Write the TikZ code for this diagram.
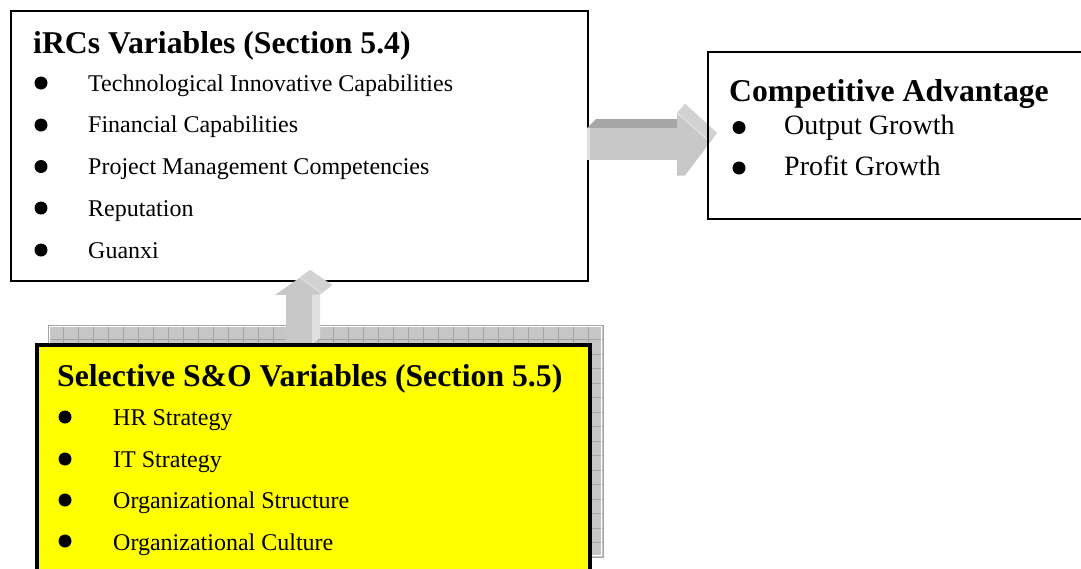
\documentclass[tikz,border=0pt]{standalone}
\usepackage{fontspec}
\setmainfont{Liberation Serif}
\definecolor{arrowfront}{HTML}{C8C8C8}
\definecolor{arrowtop}{HTML}{A6A6A6}
\definecolor{arrowside}{HTML}{E0E0E0}
\definecolor{arrowbevel}{HTML}{D2D2D2}
\definecolor{gridfill}{HTML}{C6C6C6}
\definecolor{gridline}{HTML}{A4A4A4}
\definecolor{boxyellow}{HTML}{FFFF00}
\tikzset{
  framebox/.style={draw=black, line width=1.6pt, inner sep=0pt, anchor=north west},
  headtext/.style={anchor=base west, inner sep=0pt, font=\fontsize{31.7}{36}\selectfont\bfseries},
  itemtext/.style={anchor=base west, inner sep=0pt, font=\fontsize{24}{28}\selectfont},
  bigitemtext/.style={anchor=base west, inner sep=0pt, font=\fontsize{28}{32}\selectfont},
  bulletdot/.style={circle, fill=black, inner sep=0pt, minimum size=13pt},
}
\begin{document}
\begin{tikzpicture}[x=1pt,y=-1pt]
\useasboundingbox (0,0) rectangle (1081,568);

% --- top box: iRCs variables
\node[framebox, fill=white, minimum width=577pt, minimum height=270pt] (irc) at (10,10) {};
\node[headtext] (irct) at (33,53) {iRCs Variables (Section 5.4)};
\node[bulletdot] (ib1) at (41,83) {};
\node[itemtext] (ii1) at (88,91) {Technological Innovative Capabilities};
\node[bulletdot] (ib2) at (41,125) {};
\node[itemtext] (ii2) at (88,132.7) {Financial Capabilities};
\node[bulletdot] (ib3) at (41,166.5) {};
\node[itemtext] (ii3) at (88,174.5) {Project Management Competencies};
\node[bulletdot] (ib4) at (41,208) {};
\node[itemtext] (ii4) at (88,216) {Reputation};
\node[bulletdot] (ib5) at (41,250) {};
\node[itemtext] (ii5) at (88,258) {Guanxi};

% --- right 3D arrow (irc -> ca)
\fill[arrowtop] (587,128) -- (596,119) -- (677,119) -- (677,128) -- cycle;
\fill[arrowfront] (587,128) rectangle (678,160);
\fill[arrowside] (587,128) rectangle (589.5,160);
\fill[arrowfront] (677,113) -- (685,104) -- (717,133) -- (685,175.5) -- (677,175.5) -- cycle;
\fill[arrowbevel] (677,113) -- (685,104) -- (717,133) -- (709,141) -- cycle;
\draw[arrowside, line width=1.2pt] (677,113) -- (709,141);

% --- right box: competitive advantage
\node[framebox, minimum width=380pt, minimum height=167pt] (ca) at (707,51) {};
\node[headtext] (cat) at (729,101.5) {Competitive Advantage};
\node[bulletdot] (cb1) at (739,127.5) {};
\node[bigitemtext] (ci1) at (784,134) {Output Growth};
\node[bulletdot] (cb2) at (739,168) {};
\node[bigitemtext] (ci2) at (784,175.5) {Profit Growth};

% --- grid shadow of the yellow box
\fill[gridfill] (48,325) rectangle (603,557);
\foreach \i in {1,...,36} { \draw[gridline, line width=0.6pt] (48+15*\i,325) -- (48+15*\i,557); }
\foreach \j in {1,...,15} { \draw[gridline, line width=0.6pt] (48,325+14.5*\j) -- (603,325+14.5*\j); }
\draw[white, line width=0.8pt] (49.2,326.2) rectangle (601.8,555.8);
\draw[gridline, line width=0.8pt] (48,325) rectangle (603,557);

% --- up 3D arrow (so -> irc)
\fill[arrowfront] (286,294) rectangle (312,344);
\fill[arrowside] (312,294) -- (320,289) -- (320,338) -- (312,344) -- cycle;
\fill[arrowfront] (275,295) -- (300,277.5) -- (310,270) -- (332,285) -- (320,294.5) -- cycle;
\fill[arrowbevel] (300,277.5) -- (310,270) -- (332,285) -- (321,293) -- cycle;
\draw[arrowside, line width=1.2pt] (300,277.5) -- (321,293);

% --- yellow box: selective S&O variables
\node[framebox, fill=boxyellow, line width=4pt, minimum width=553pt, minimum height=240pt] (so) at (35,342.5) {};
\node[headtext] (sot) at (57,386) {Selective S\&O Variables (Section 5.5)};
\node[bulletdot] (sb1) at (65,417) {};
\node[itemtext] (si1) at (113,425.5) {HR Strategy};
\node[bulletdot] (sb2) at (65,459) {};
\node[itemtext] (si2) at (113,467) {IT Strategy};
\node[bulletdot] (sb3) at (65,500) {};
\node[itemtext] (si3) at (113,508.5) {Organizational Structure};
\node[bulletdot] (sb4) at (65,541) {};
\node[itemtext] (si4) at (113,550) {Organizational Culture};
\end{tikzpicture}
\end{document}
